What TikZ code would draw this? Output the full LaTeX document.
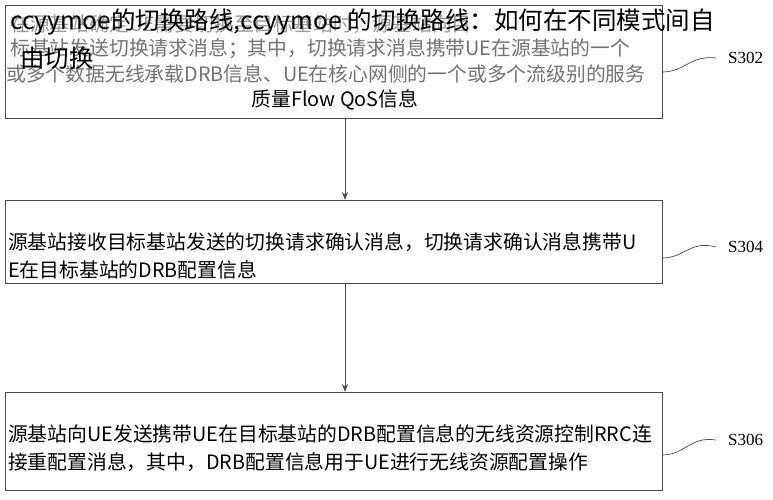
\documentclass[tikz,border=0pt]{standalone}
\usetikzlibrary{arrows.meta}
\usepackage{fontspec}
\setmainfont{Liberation Serif}
\newfontfamily\cjk{Noto Sans CJK SC}
\newfontfamily\cjkl{Noto Sans CJK SC Light}
\begin{document}
\begin{tikzpicture}[x=1pt,y=-1pt,
  stepbox/.style={draw=black!70,line width=0.8pt},
  txt/.style={font=\cjk\fontsize{19.8}{30}\selectfont,anchor=west,inner sep=0pt},
  lbl/.style={font=\fontsize{17}{20}\selectfont,anchor=west,inner sep=0pt},
  conn/.style={draw=black!70,line width=0.8pt,-{Stealth[length=8pt,width=6pt]}},
  sq/.style={draw=black!70,line width=0.7pt}]
\useasboundingbox (0,0) rectangle (773,500);
\node[stepbox,minimum width=657,minimum height=113,anchor=north west,inner sep=0] (b1) at (5,5) {};
\node[stepbox,minimum width=657,minimum height=83,anchor=north west,inner sep=0] (b2) at (5,200) {};
\node[stepbox,minimum width=657,minimum height=98,anchor=north west,inner sep=0] (b3) at (5,392) {};
\draw[conn] (b1.south -| 345,0) -- (b2.north -| 345,0);
\draw[conn] (b2.south -| 345,0) -- (b3.north -| 345,0);
% box1 text
\node[txt,text=black!40] (t0) at (10,24) {在源基站确定UE需要切换至目标基站时，源基站向目};
\node[txt,text=black!55] (t1) at (10,49) {标基站发送切换请求消息；其中，切换请求消息携带UE在源基站的一个};
\node[txt,text=black!55] (t2) at (6,74) {或多个数据无线承载DRB信息、UE在核心网侧的一个或多个流级别的服务};
\node[txt,anchor=center] (t3) at (335,100) {质量Flow QoS信息};
\node[font=\cjk\fontsize{24.5}{34}\selectfont,anchor=west,inner sep=0pt] (wm1) at (10,22) {ccyymoe的切换路线,ccyymoe 的切换路线：如何在不同模式间自};
\node[font=\cjk\fontsize{24.5}{34}\selectfont,anchor=west,inner sep=0pt] (wm2) at (20,58) {由切换};
% box2 text
\node[txt] (u1) at (8,242) {源基站接收目标基站发送的切换请求确认消息，切换请求确认消息携带U};
\node[txt] (u2) at (8,270) {E在目标基站的DRB配置信息};
% box3 text
\node[txt] (v1) at (8,434) {源基站向UE发送携带UE在目标基站的DRB配置信息的无线资源控制RRC连};
\node[txt] (v2) at (8,462) {接重配置消息，其中，DRB配置信息用于UE进行无线资源配置操作};
% labels
\node[lbl] (l1) at (728,58) {S302};
\node[lbl] (l2) at (728,247) {S304};
\node[lbl] (l3) at (728,440) {S306};
\coordinate (c1) at (662,72);
\coordinate (c2) at (662,258);
\coordinate (c3) at (662,455);
\draw[sq] (c1) .. controls (685,72) and (690,55) .. ([xshift=-12]l1.west);
\draw[sq] (c2) .. controls (685,258) and (690,240) .. ([xshift=-12]l2.west);
\draw[sq] (c3) .. controls (685,455) and (690,436) .. ([xshift=-12]l3.west);
\end{tikzpicture}
\end{document}
